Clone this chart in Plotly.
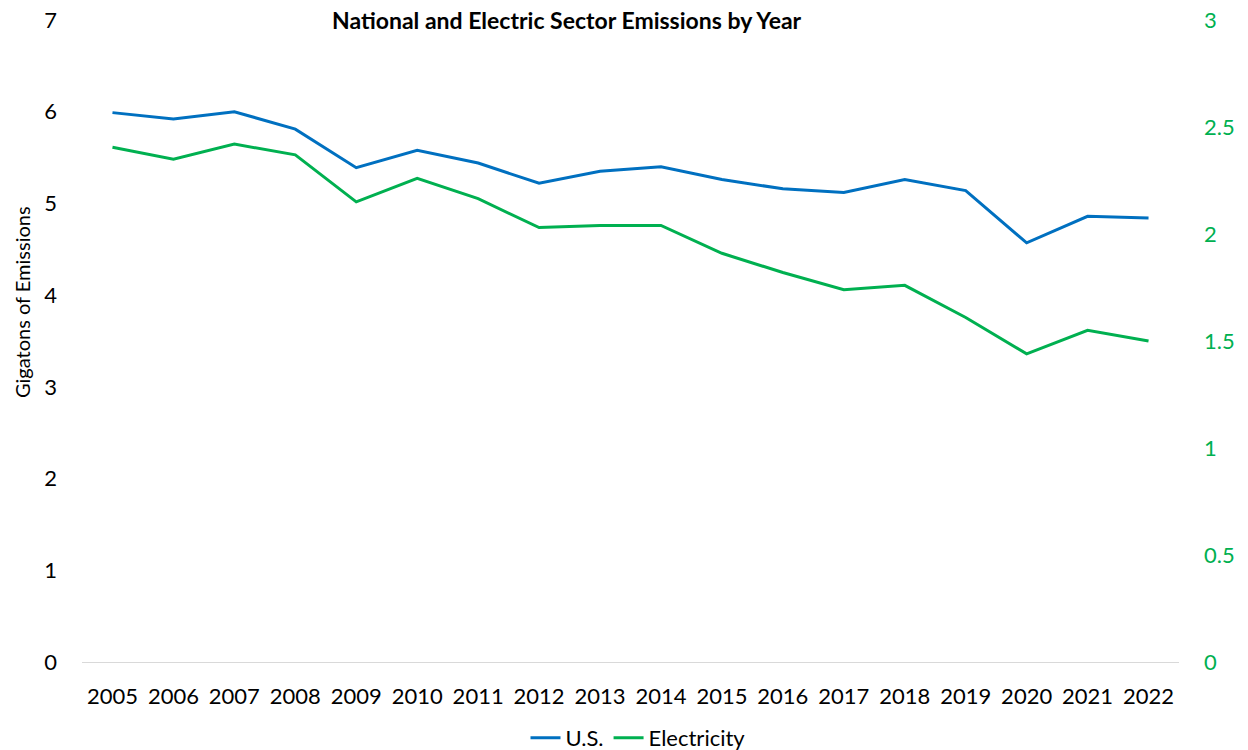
import plotly.graph_objects as go

years = [str(y) for y in range(2005, 2023)]
us_emissions = [5.99, 5.92, 6.00, 5.81, 5.39, 5.58, 5.44, 5.22, 5.35, 5.40,
                5.26, 5.16, 5.12, 5.26, 5.14, 4.57, 4.86, 4.84]
electricity = [2.405, 2.35, 2.42, 2.37, 2.15, 2.26, 2.165, 2.03, 2.04, 2.04,
               1.91, 1.82, 1.74, 1.76, 1.61, 1.44, 1.55, 1.50]

BLUE = "#0070C0"
GREEN = "#00B050"
FONT = "Lato"

L, R, T, B = 82, 69, 20, 88
PW = 1248 - L - R
PH = 750 - T - B

fig = go.Figure()
fig.add_trace(go.Scatter(x=years, y=us_emissions, name="U.S.", mode="lines",
                         line=dict(color=BLUE, width=3)))
fig.add_trace(go.Scatter(x=years, y=electricity, name="Electricity", mode="lines",
                         line=dict(color=GREEN, width=3), yaxis="y2"))

fig.update_layout(
    width=1248, height=750,
    margin=dict(l=L, r=R, t=T, b=B, autoexpand=False),
    paper_bgcolor="white", plot_bgcolor="white",
    font=dict(family=FONT, size=22, color="#000000"),
    showlegend=True,
    legend=dict(orientation="h", x=638 / 1248, xref="container", xanchor="center",
                y=(750 - 738) / 750, yref="container", yanchor="middle",
                font=dict(size=22), itemwidth=30),
    xaxis=dict(type="category", range=[-0.5, len(years) - 0.5], showgrid=False,
               showline=True, linecolor="#D9D9D9", linewidth=1, ticks="",
               tickfont=dict(size=22), ticklabelstandoff=15, automargin=False),
    yaxis=dict(range=[0, 7], dtick=1, showgrid=False, zeroline=False, showline=False,
               tickfont=dict(size=22), ticks="", ticklabelstandoff=24, automargin=False),
    yaxis2=dict(range=[0, 3], dtick=0.5, overlaying="y", side="right", showgrid=False,
                zeroline=False, showline=False, tickfont=dict(size=22, color=GREEN),
                ticks="", ticklabelstandoff=24, automargin=False),
    annotations=[
        dict(text="<b>National and Electric Sector Emissions by Year</b>",
             xref="paper", yref="paper", x=(567 - L) / PW, y=1.0,
             xanchor="center", yanchor="middle", showarrow=False, font=dict(size=23)),
        dict(text="Gigatons of Emissions", textangle=-90, xref="paper", yref="paper",
             x=(22 - L) / PW, y=(662 - 302) / PH, xanchor="center", yanchor="middle",
             showarrow=False, font=dict(size=20)),
    ],
)

fig.write_html("out.html")
